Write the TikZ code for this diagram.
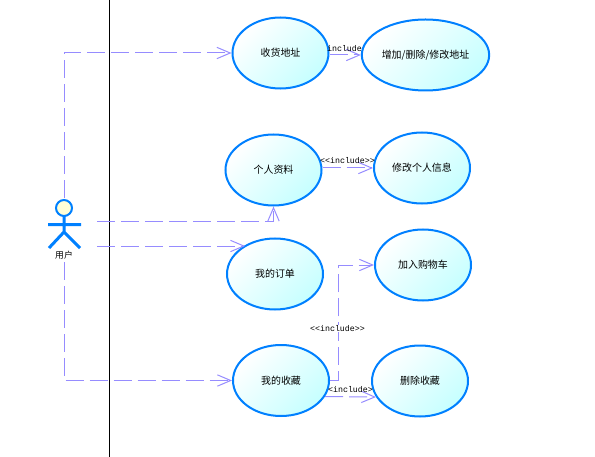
\documentclass[tikz,border=0pt]{standalone}
\usepackage{fontspec}
\setmainfont{Noto Sans CJK SC}
\newfontfamily\labelfont{Liberation Mono}
\usetikzlibrary{arrows.meta}
\definecolor{edgeblue}{RGB}{0,128,255}
\definecolor{aqua}{RGB}{198,255,255}
\definecolor{cream}{RGB}{255,255,215}
\definecolor{violet}{RGB}{150,140,255}
\tikzset{
  >={Straight Barb[length=4mm,width=3.4mm]},
  usecase/.style={ellipse,draw=edgeblue,line width=0.6mm,top color=white,bottom color=aqua,
    shading angle=45,minimum width=#1,minimum height=21.3mm,inner sep=0pt,
    font=\fontsize{8.5}{10}\selectfont},
  usecase/.default=28.8mm,
  flow/.style={->,draw=violet,line width=0.3mm,dash pattern=on 5.4mm off 1.8mm},
  tag/.style={font=\fontsize{7.1}{8}\labelfont,inner sep=0.5pt},
  limb/.style={draw=edgeblue,line width=0.9mm},
}
\usetikzlibrary{shapes.geometric}
\begin{document}
\begin{tikzpicture}[x=0.03cm,y=-0.03cm]
  \useasboundingbox (0,0) rectangle (595,457);
  \draw[black,line width=0.3mm] (109.5,0) -- (109.5,457);
  % use cases
  \node[usecase] (addr) at (280.5,53) {收货地址};
  \node[usecase=38.2mm] (edit) at (425.5,55) {增加/删除/修改地址};
  \node[usecase] (info) at (273.5,170) {个人资料};
  \node[usecase] (change) at (422,168) {修改个人信息};
  \node[usecase] (order) at (275,274) {我的订单};
  \node[usecase] (cart) at (423,265) {加入购物车};
  \node[usecase] (fav) at (281,380.5) {我的收藏};
  \node[usecase] (del) at (420,381) {删除收藏};
  % actor
  \draw[limb] (64,216) -- (64,232) (48,224.5) -- (81,224.5) (49,248) -- (64,232) -- (80,248);
  \draw[draw=edgeblue,line width=0.6mm,fill=cream] (64,208) circle (8);
  \node[font=\fontsize{7.5}{9}\selectfont,inner sep=0pt] (user) at (64,255) {用户};
  \coordinate (usertop) at (64,198);
  \coordinate (userbottom) at (64,262);
  \coordinate (userinfo) at (97,221);
  \coordinate (userorder) at (97,246);
  % connectors
  \draw[flow] (usertop) |- (addr);
  \draw[flow] (userbottom) |- (fav);
  \draw[flow] (userinfo) -| (info);
  \draw[flow] (userorder) -- (userorder -| order.136);
  \draw[flow] (edit -| addr.east) -- (edit.west);
  \draw[flow] (info.east |- change) -- (change.west);
  \draw[flow] (fav.east) -- ++(8,0) |- (cart);
  \draw[flow] (fav.340) -- (del.200);
  % labels
  \node[tag] (tagaddr) at (344.5,48.5) {include};
  \node[tag] (taginfo) at (347.5,160.5) {<{}<include>{}>};
  \node[tag,fill=white] (tagcart) at (337.5,328.5) {<{}<include>{}>};
  \node[tag] (tagdel) at (350.5,390) {<include>};
\end{tikzpicture}
\end{document}
